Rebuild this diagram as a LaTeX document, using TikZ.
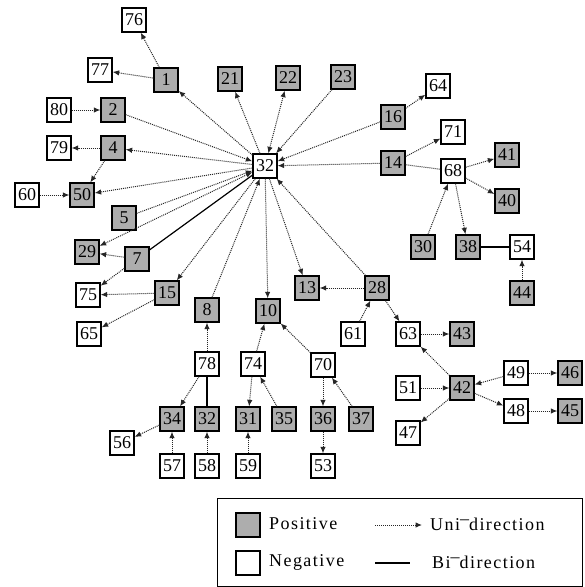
\documentclass[tikz,border=0pt]{standalone}
\usepackage{fontspec}
\setmainfont{Liberation Serif}
\newfontfamily\legfont[LetterSpace=8]{Liberation Serif}
\usetikzlibrary{arrows.meta}
\begin{document}
\begin{tikzpicture}[x=1pt,y=-1pt,
  nd/.style={draw, line width=1.3pt, minimum size=24pt, inner sep=0pt,
    font=\fontsize{18}{18}\selectfont, fill=white},
  posbox/.style={nd, fill=black!32},
  negbox/.style={nd},
  dots/.style={line width=1pt, dash pattern=on 1pt off 1pt, draw=black!85},
  uni/.style={dots, -{Latex[length=6.5pt,width=5.5pt]}},
  both/.style={dots, {Latex[length=6.5pt,width=5.5pt]}-{Latex[length=6.5pt,width=5.5pt]}},
  und/.style={dots},
  bi/.style={line width=1.2pt},
  legtext/.style={anchor=west, inner sep=0pt, font=\legfont\fontsize{18}{18}\selectfont}
]
\useasboundingbox (0,0) rectangle (585,587);
% positive nodes
\foreach \n/\x/\y in {1/166/80, 2/113/110, 4/113/148, 50/82/195, 21/230/79, 22/288/78,
  23/343/77, 16/393/117, 14/393/163, 41/507/155, 40/507/201, 5/124/218, 29/87/252,
  7/137/259, 15/167/293, 8/207/310, 10/268/311, 13/307/288, 28/377/288, 30/423/247,
  38/468/247, 44/522/293, 43/462/334, 42/462/388, 46/570/373, 45/570/411, 34/172/419,
  31/248/419, 35/284/419, 36/323/419, 37/361/419}
  \node[posbox] (n\n) at (\x,\y) {\n};
\node[posbox] (n32b) at (207,419) {32};
% negative nodes
\foreach \n/\x/\y in {76/134/20, 77/100/70, 80/59/110, 79/59/148, 60/27/195, 32/265/166,
  64/438/86, 71/453/132, 68/453/171, 54/522/247, 75/88/295, 65/89/334, 61/353/334,
  63/408/334, 78/207/364, 74/253/364, 70/323/365, 51/408/388, 49/516/373, 48/516/411,
  47/408/433, 56/122/443, 57/172/466, 58/207/466, 59/248/466, 53/323/466}
  \node[negbox] (n\n) at (\x,\y) {\n};
% hub connectors
\draw[uni] (n32) -- (n1);
\draw[uni] (n2) -- (n32);
\draw[uni] (n32) -- (n4);
\draw[uni] (n32) -- (n50);
\draw[uni] (n32) -- (n21);
\draw[both] (n32) -- (n22);
\draw[uni] (n23) -- (n32);
\draw[uni] (n16) -- (n32);
\draw[uni] (n14) -- (n32);
\draw[uni] (n5) -- (n32);
\draw[both] (n32) -- (n29);
\draw[bi] (n7) -- (n32);
\draw[uni] (n32) -- (n15);
\draw[uni] (n8) -- (n32);
\draw[uni] (n32) -- (n10);
\draw[uni] (n32) -- (n13);
\draw[uni] (n28) -- (n32);
% left group
\draw[uni] (n1) -- (n76);
\draw[uni] (n1) -- (n77);
\draw[uni] (n80) -- (n2);
\draw[uni] (n4) -- (n79);
\draw[uni] (n4) -- (n50);
\draw[uni] (n60) -- (n50);
\draw[uni] (n7) -- (n29);
\draw[uni] (n7) -- (n75);
\draw[uni] (n15) -- (n75);
\draw[uni] (n15) -- (n65);
% right group
\draw[uni] (n16) -- (n64);
\draw[uni] (n14) -- (n71);
\draw[und] (n14) -- (n68);
\draw[uni] (n68) -- (n41);
\draw[uni] (n68) -- (n40);
\draw[uni] (n30) -- (n68);
\draw[uni] (n68) -- (n38);
\draw[bi] (n38) -- (n54);
\draw[uni] (n44) -- (n54);
\draw[uni] (n28) -- (n13);
\draw[uni] (n61) -- (n28);
\draw[uni] (n28) -- (n63);
\draw[uni] (n63) -- (n43);
\draw[uni] (n42) -- (n63);
\draw[uni] (n51) -- (n42);
\draw[uni] (n42) -- (n47);
\draw[uni] (n49) -- (n42);
\draw[uni] (n42) -- (n48);
\draw[uni] (n49) -- (n46);
\draw[uni] (n48) -- (n45);
% bottom group
\draw[uni] (n78) -- (n8);
\draw[uni] (n78) -- (n34);
\draw[bi] (n78) -- (n32b);
\draw[uni] (n34) -- (n56);
\draw[uni] (n57) -- (n34);
\draw[uni] (n58) -- (n32b);
\draw[uni] (n59) -- (n31);
\draw[uni] (n74) -- (n10);
\draw[uni] (n70) -- (n10);
\draw[uni] (n35) -- (n74);
\draw[uni] (n74) -- (n31);
\draw[uni] (n70) -- (n36);
\draw[uni] (n37) -- (n70);
\draw[uni] (n36) -- (n53);
% legend
\draw[line width=1pt] (217,498) rectangle (582,586);
\node[posbox] (lp) at (248,525) {};
\node[negbox] (ln) at (248,563) {};
\node[legtext] (tp) at (269,524) {Positive};
\node[legtext] (tn) at (269,562) {Negative};
\coordinate (ua) at (375,525);
\coordinate (ub) at (422,525);
\draw[uni] (ua) -- (ub);
\coordinate (ba) at (375,563);
\coordinate (bb) at (410,563);
\draw[bi] (ba) -- (bb);
\node[legtext] (tu) at (430,524) {Uni\raisebox{0.32em}{–}direction};
\node[legtext] (tb) at (432,562) {Bi\raisebox{0.32em}{–}direction};
\end{tikzpicture}
\end{document}
